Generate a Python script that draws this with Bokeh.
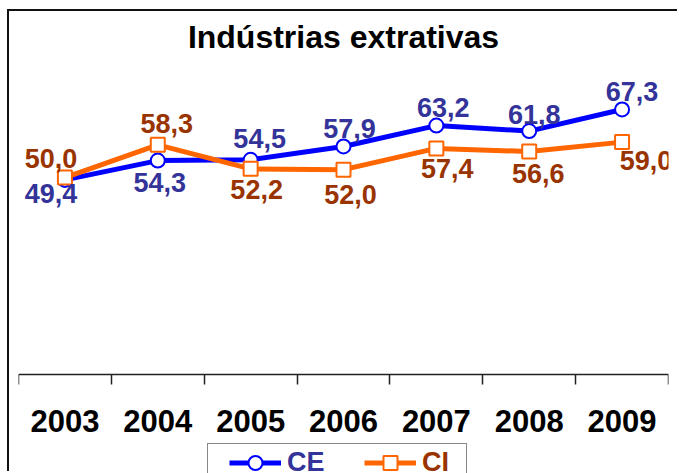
from bokeh.plotting import figure
from bokeh.models import ColumnDataSource, Range1d, FixedTicker, Legend, LegendItem, LinearAxis
from bokeh.core.properties import value
from bokeh.embed import file_html
from bokeh.resources import INLINE
import numpy as np

# ---- data ----
years = ["2003", "2004", "2005", "2006", "2007", "2008", "2009"]
ce = [49.4, 54.3, 54.5, 57.9, 63.2, 61.8, 67.3]
ci = [50.0, 58.3, 52.2, 52.0, 57.4, 56.6, 59.0]
title = "Indústrias extrativas"

# ---- label placement (screen px offsets from marker) ----
ce_dx = [-14, 2, 9, 6, 7, 5, 10]
ce_dy = [15, 23, -20, -17, -17, -16, -17]
ci_dx = [-14, 9, 6, 7, 11, 9, 24]
ci_dy = [-18, -20, 22, 26, 21, 23, 19]

FONT = "Liberation Sans"
BLUE = "#0000FF"
ORANGE = "#FF6600"
CE_TXT = "#333399"
CI_TXT = "#993300"

xpos = list(np.arange(len(years)) + 0.5)

def fmt(v):
    return f"{v:.1f}".replace(".", ",")

src_ce = ColumnDataSource(dict(x=xpos, y=ce, t=[fmt(v) for v in ce], dx=ce_dx, dy=[d - 1 for d in ce_dy]))
src_ci = ColumnDataSource(dict(x=xpos, y=ci, t=[fmt(v) for v in ci], dx=ci_dx, dy=[d - 1 for d in ci_dy]))

# plot area: value 0 sits 100 px above the frame bottom, 3.9625 px per unit
Y_TOP = 80
Y_BOTTOM = -100 / 3.9625

p = figure(width=670, height=462, output_backend="svg", toolbar_location=None,
           x_range=Range1d(0, len(years)), y_range=Range1d(Y_BOTTOM, Y_TOP),
           x_axis_location=None, y_axis_location=None,
           min_border_left=9, min_border_right=11, min_border_top=45, min_border_bottom=0)
p.styles = {"margin-left": "7px", "margin-top": "9px",
            "border-left": "2px solid #111", "border-top": "2px solid #111"}
p.grid.visible = False
p.outline_line_color = None
p.background_fill_color = "white"
p.border_fill_color = "white"

p.title.text = title
p.title.text_font = FONT
p.title.text_font_size = "32px"
p.title.text_font_style = "bold"
p.title.text_color = "black"
p.title.align = "center"
p.title.offset = 4
p.title.standoff = 10

ax = LinearAxis(ticker=FixedTicker(ticks=xpos, minor_ticks=list(range(len(years) + 1))),
                major_label_overrides={x: y for x, y in zip(xpos, years)},
                fixed_location=0)
ax.axis_line_color = "#222"
ax.axis_line_width = 1.5
ax.major_tick_line_color = None
ax.major_tick_out = 0
ax.major_tick_in = 0
ax.minor_tick_line_color = "#222"
ax.minor_tick_line_width = 1.5
ax.minor_tick_out = 10
ax.minor_tick_in = 0
ax.major_label_standoff = 26
ax.major_label_text_font = FONT
ax.major_label_text_font_size = "31px"
ax.major_label_text_font_style = "bold"
ax.major_label_text_color = "black"
p.add_layout(ax, "below")

ce_line = p.line("x", "y", source=src_ce, line_color=BLUE, line_width=5)
ce_pts = p.scatter("x", "y", source=src_ce, marker="circle", size=14,
                   fill_color="white", line_color=BLUE, line_width=2)
ci_line = p.line("x", "y", source=src_ci, line_color=ORANGE, line_width=5)
ci_pts = p.scatter("x", "y", source=src_ci, marker="square", size=14,
                   fill_color="white", line_color=ORANGE, line_width=2)

for src, col in ((src_ce, CE_TXT), (src_ci, CI_TXT)):
    p.text("x", "y", text="t", source=src, x_offset="dx", y_offset="dy",
           text_font=value(FONT), text_font_size="27px", text_font_style="bold",
           text_color=col, text_align="center", text_baseline="middle")

# invisible renderer used only to give the legend frame a body
ghost = p.line("x", "y", source=src_ce, line_alpha=0)

frame_lg = Legend(items=[LegendItem(label=" ", renderers=[ghost])], location=(189, -12),
                  orientation="horizontal", padding=0, margin=0, spacing=0,
                  glyph_width=200, glyph_height=40, label_standoff=0, label_width=58,
                  label_text_font_size="10px",
                  border_line_color="#111", border_line_width=1.5,
                  background_fill_color="white", background_fill_alpha=1)
p.add_layout(frame_lg, "center")

def mk_legend(label, rends, x, color):
    return Legend(items=[LegendItem(label=label, renderers=rends)], location=(x, -7),
                  orientation="horizontal", padding=0, margin=0, spacing=0,
                  glyph_width=52, glyph_height=35, label_standoff=6,
                  label_text_font=FONT, label_text_font_size="27px", label_text_font_style="bold",
                  label_text_color=color, border_line_color=None, background_fill_alpha=0)

p.add_layout(mk_legend("CE", [ce_line, ce_pts], 211, CE_TXT), "center")
p.add_layout(mk_legend("CI", [ci_line, ci_pts], 346, CI_TXT), "center")

open("out.html", "w").write(file_html(p, INLINE))
